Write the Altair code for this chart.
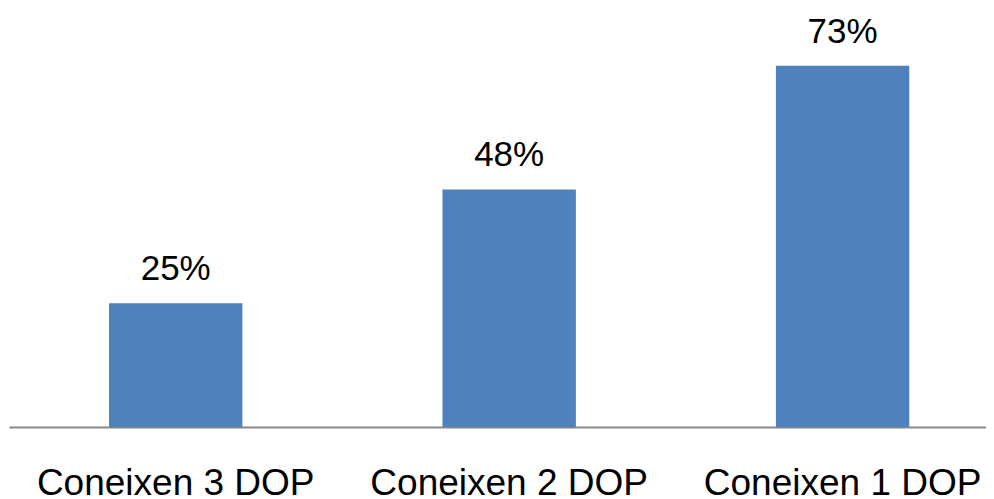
import altair as alt
import pandas as pd

categories = ["Coneixen 3 DOP", "Coneixen 2 DOP", "Coneixen 1 DOP"]
values = [0.25, 0.48, 0.73]
labels = ["25%", "48%", "73%"]

df = pd.DataFrame({"cat": categories, "val": values, "lab": labels})

x = alt.X("cat:N", sort=categories, title=None,
          scale=alt.Scale(paddingInner=0.6, paddingOuter=0.265, align=0.566),
          axis=alt.Axis(labelAngle=0, ticks=False, domainColor="#888888", domainWidth=2,
                        labelFont="Liberation Sans", labelFontSize=37, labelColor="#000000",
                        labelBaseline="alphabetic", labelPadding=67, labelLimit=0,
                        labelOverlap=False, grid=False))
y = alt.Y("val:Q", title=None, scale=alt.Scale(domain=[0, 0.8]), axis=None)

base = alt.Chart(df).encode(x=x, y=y)
bars = base.mark_bar(color="#4F81BD")
text = base.mark_text(baseline="alphabetic", dy=-23, font="Liberation Sans",
                      fontSize=35, color="#000000").encode(text="lab:N")

chart = (bars + text).properties(
    width=977, height=396,
    autosize=alt.AutoSizeParams(type="none"),
    padding={"left": 1, "top": 23, "right": 0, "bottom": 68},
).configure_view(stroke=None)

chart.save("out.html", embed_options={"renderer": "svg", "actions": False})
